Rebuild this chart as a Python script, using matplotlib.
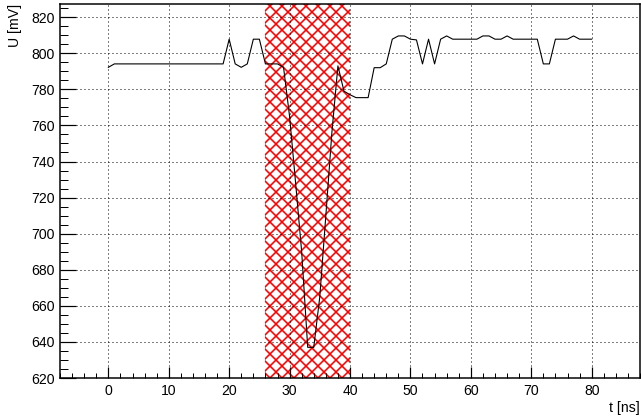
#!/usr/bin/env python3
"""Waveform sample U(t) with the hatched integration window (ROOT-like look)."""
import matplotlib

matplotlib.use("Agg")
import matplotlib.pyplot as plt
import numpy as np
from matplotlib.ticker import MultipleLocator

plt.rcParams["font.family"] = ["Liberation Sans", "DejaVu Sans"]
plt.rcParams["hatch.linewidth"] = 1.6

# sample times [ns], one sample per ns
t_ns = np.arange(0, 81)
# voltage [mV]
u_mv = (
    [792.2] + [794.1] * 19
    + [807.8, 794.1, 792.2, 794.1, 807.8, 807.8, 794.1, 794.1, 794.1, 792.2]      # 20-29
    + [765.0, 728.0, 690.0, 637.0, 637.0, 665.0, 710.0, 756.0, 793.0, 779.0]      # 30-39
    + [777.0, 775.4, 775.4, 775.4, 792.0, 792.0, 794.1, 807.8, 809.6, 809.6]      # 40-49
    + [807.8, 807.4, 794.1, 807.8, 794.1, 807.8, 809.6, 807.8, 807.8, 807.8]      # 50-59
    + [807.8, 807.8, 809.6, 809.6, 807.8, 807.8, 809.6, 807.8, 807.8, 807.8]      # 60-69
    + [807.8, 807.8, 794.1, 794.1, 807.8, 807.8, 807.8, 809.6, 807.8, 807.8]      # 70-79
    + [807.8]                                                                     # 80
)
window = (26.0, 40.0)  # hatched region [ns]

X_LIM = (-8, 88)
Y_LIM = (620, 827.3)

fig = plt.figure(figsize=(641 / 72, 419 / 72), dpi=72)
ax = fig.add_axes([60 / 641, 41 / 419, 580 / 641, 374 / 419])

ax.axvspan(*window, facecolor="none", edgecolor="#ff0000", hatch="xx", lw=0, zorder=1)
ax.plot(t_ns, u_mv, color="black", lw=1.1, zorder=3)

ax.set_xlim(*X_LIM)
ax.set_ylim(*Y_LIM)

ax.xaxis.set_major_locator(MultipleLocator(10))
ax.xaxis.set_minor_locator(MultipleLocator(2))
ax.yaxis.set_major_locator(MultipleLocator(20))
ax.yaxis.set_minor_locator(MultipleLocator(5))

ax.grid(True, which="major", color="black", lw=1.0, ls=(0, (1, 3)), zorder=2)
ax.set_axisbelow(False)

for s in ax.spines.values():
    s.set_linewidth(1.5)
    s.set_color("black")

ax.tick_params(axis="x", which="major", direction="in", length=11, width=1.2,
               labelsize=14, pad=6, top=False)
ax.tick_params(axis="x", which="minor", direction="in", length=5.5, width=1.0, top=False)
ax.tick_params(axis="y", which="major", direction="in", length=16, width=1.2,
               labelsize=14, pad=5, right=False)
ax.tick_params(axis="y", which="minor", direction="in", length=8, width=1.0, right=False)

ax.set_xlabel("t [ns]", loc="right", fontsize=14, labelpad=3)
ax.set_ylabel("U [mV]", loc="top", fontsize=14, labelpad=10)

fig.savefig("out.png", dpi=72)
